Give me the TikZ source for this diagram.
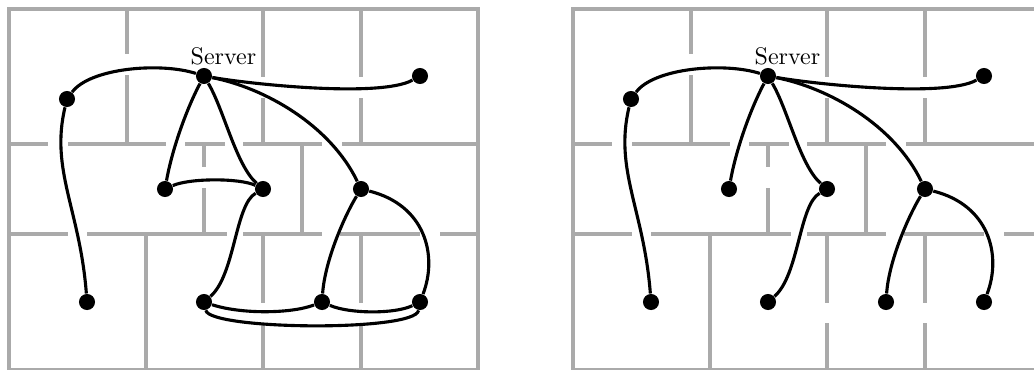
\documentclass[tikz,border=0pt]{standalone}
\definecolor{wall}{RGB}{170,170,170}
\begin{document}
\begin{tikzpicture}[x=0.41667pt,y=-0.41667pt,
  wallline/.style={draw=wall,line width=1.4pt},
  cable/.style={draw=black,line width=1.3pt},
  dot/.style={circle,fill=black,inner sep=0pt,minimum size=6.7pt}]
\useasboundingbox (0,0) rectangle (1034,369);
\newcommand\myfloorplan{%
  \draw[wallline] (9,9) rectangle (478,369.5);
  \draw[wallline] (127,9)--(127,54) (127,75)--(127,144)
                  (263,9)--(263,77) (263,98)--(263,144)
                  (361,9)--(361,77) (361,98)--(361,144);
  \draw[wallline] (9,144)--(48,144) (68,144)--(166,144) (185,144)--(225,144)
                  (243,144)--(322,144) (342,144)--(478,144);
  \draw[wallline] (204,144)--(204,167) (204,188)--(204,234) (302,144)--(302,234);
  \draw[wallline] (9,234)--(68,234) (87,234)--(227,234) (243,234)--(322,234)
                  (340,234)--(420,234) (440,234)--(478,234);
  \draw[wallline] (146,234)--(146,369.5)
                  (263,234)--(263,303) (263,323)--(263,369.5)
                  (361,234)--(361,303) (361,323)--(361,369.5);
}
\newcommand\mynodes[1]{%
  \node[dot,label={[inner sep=1pt,xshift=8.1pt]above:Server}] (#1S) at (204,76) {};
  \node[dot] (#1A) at (67,99) {};
  \node[dot] (#1B) at (420,76) {};
  \node[dot] (#1C) at (165,189) {};
  \node[dot] (#1D) at (263,189) {};
  \node[dot] (#1E) at (361,189) {};
  \node[dot] (#1F) at (87,302) {};
  \node[dot] (#1G) at (204,302) {};
  \node[dot] (#1H) at (322,302) {};
  \node[dot] (#1I) at (420,302) {};
}
\newcommand\mytree[1]{%
  \draw[cable] (#1A) .. controls (90,68) and (160,62) .. (#1S);
  \draw[cable] (#1S) .. controls (250,84) and (380,98) .. (#1B);
  \draw[cable] (#1S) .. controls (186,110) and (172,150) .. (#1C);
  \draw[cable] (#1S) .. controls (224,110) and (236,165) .. (#1D);
  \draw[cable] (#1S) .. controls (265,88) and (330,125) .. (#1E);
  \draw[cable] (#1A) .. controls (50,170) and (80,210) .. (#1F);
  \draw[cable] (#1D) .. controls (235,205) and (235,275) .. (#1G);
  \draw[cable] (#1E) .. controls (345,215) and (325,260) .. (#1H);
  \draw[cable] (#1E) .. controls (425,205) and (438,255) .. (#1I);
}
% left panel
\myfloorplan
\mynodes{l}
\mytree{l}
\draw[cable] (lC) .. controls (190,178) and (240,178) .. (lD);
\draw[cable] (lG) .. controls (240,314) and (290,314) .. (lH);
\draw[cable] (lH) .. controls (350,314) and (395,314) .. (lI);
\draw[cable] (lG) .. controls (210,330) and (415,332) .. (lI);
% right panel
\begin{scope}[shift={(564,0)}]
\myfloorplan
\mynodes{r}
\mytree{r}
\end{scope}
\end{tikzpicture}
\end{document}
